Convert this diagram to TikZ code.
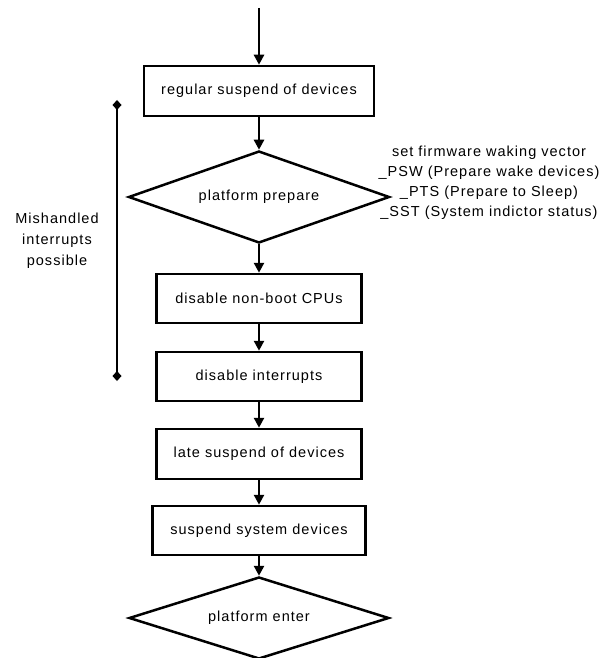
\documentclass[tikz,border=0pt]{standalone}
\usepackage{fontspec}
\setmainfont{Liberation Sans}[LetterSpace=7]
\usetikzlibrary{positioning,shapes.geometric,arrows.meta}

\begin{document}
\begin{tikzpicture}[x=1pt, y=-1pt, line width=2.5pt,
  font=\fontsize{14.5}{20}\selectfont,
  stepbox/.style={draw, shape=rectangle, minimum width=205pt, minimum height=49pt, inner sep=0pt},
  choice/.style={draw, shape=diamond, aspect=2.8, minimum width=261pt, minimum height=92pt, inner sep=0pt},
  flow/.style={-{Triangle[width=10pt,length=10pt]}},
  bound/.style={{Diamond[width=9pt,length=10pt]}-{Diamond[width=9pt,length=10pt]}}]
\useasboundingbox (0,0) rectangle (602,658);
\coordinate (start) at (259,8);
\node[stepbox, minimum width=230pt, minimum height=50pt] (regsusp) at (259,91) {regular suspend of devices};
\node[choice, below=32.5pt of regsusp] (pprep) {platform prepare};
\node[stepbox, below=28.5pt of pprep] (nonboot) {disable non-boot CPUs};
\node[stepbox, below=26.5pt of nonboot] (noirq) {disable interrupts};
\node[stepbox, minimum height=50pt, below=25.5pt of noirq] (latesusp) {late suspend of devices};
\node[stepbox, minimum width=213pt, below=24.5pt of latesusp] (syssusp) {suspend system devices};
\node[choice, minimum width=260pt, minimum height=82pt, below=19.5pt of syssusp] (penter) {platform enter};

\draw[flow] (start) -- (regsusp);
\draw[flow] (regsusp) -- (pprep);
\draw[flow] (pprep) -- (nonboot);
\draw[flow] (nonboot) -- (noirq);
\draw[flow] (noirq) -- (latesusp);
\draw[flow] (latesusp) -- (syssusp);
\draw[flow] (syssusp) -- (penter);

\coordinate (brtop) at (117,100);
\coordinate (brbot) at (117,381);
\draw[bound] (brtop) -- (brbot);
\node[align=center, font=\fontsize{14.5}{21}\selectfont] (mishandled) at (57,241) {Mishandled\\interrupts\\possible};
\node[align=center] (fwnote) at (489,183) {set firmware waking vector\\\_PSW (Prepare wake devices)\\\_PTS (Prepare to Sleep)\\\_SST (System indictor status)};
\end{tikzpicture}
\end{document}
